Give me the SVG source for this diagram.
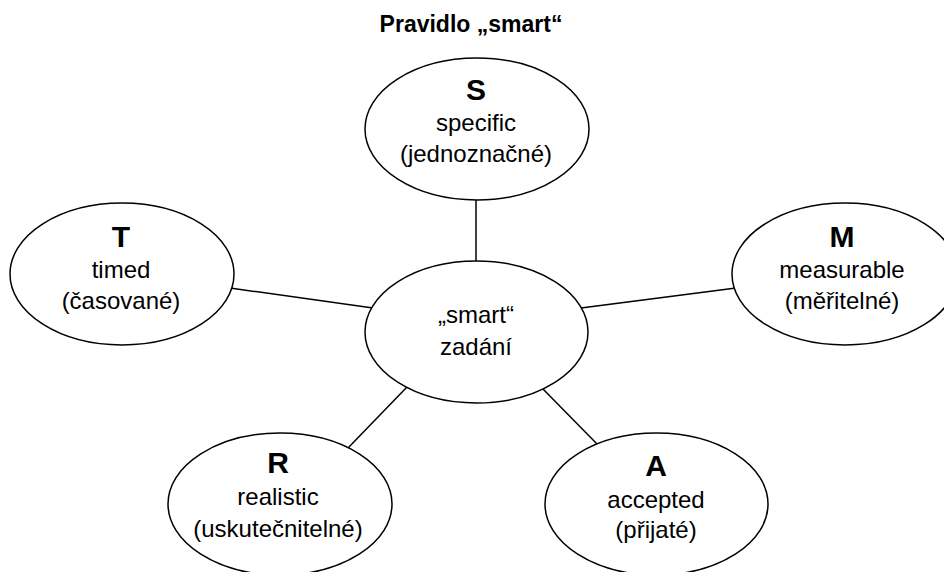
<svg xmlns="http://www.w3.org/2000/svg" width="944" height="572" viewBox="0 0 944 572">
<style>
.node ellipse{fill:#fff;stroke:#000;stroke-width:1.5}
text{font-family:"Liberation Sans",Arial,sans-serif;fill:#000;text-anchor:middle}
.t{font-size:24px}
.h{font-size:30px;font-weight:bold}
.title{font-size:23px;font-weight:bold}
#connectors line{stroke:#000;stroke-width:1.5}
</style>
<rect width="944" height="572" fill="#fff"/>
<text class="title" x="471" y="32">Pravidlo „smart“</text>
<g id="connectors">
<line x1="476" y1="198" x2="476" y2="263"/>
<line x1="230" y1="288" x2="373" y2="308"/>
<line x1="736" y1="288" x2="581" y2="308"/>
<line x1="348" y1="448" x2="407" y2="387"/>
<line x1="599" y1="446" x2="542" y2="388"/>
</g>
<g id="S" class="node">
<ellipse cx="477" cy="129" rx="112" ry="71"/>
<text class="h" x="476" y="100">S</text>
<text class="t" x="476" y="131">specific</text>
<text class="t" x="476" y="162">(jednoznačné)</text>
</g>
<g id="T" class="node">
<ellipse cx="122" cy="274" rx="112" ry="71"/>
<text class="h" x="121" y="247">T</text>
<text class="t" x="121" y="278">timed</text>
<text class="t" x="121" y="309">(časované)</text>
</g>
<g id="M" class="node">
<ellipse cx="845" cy="274" rx="113" ry="71"/>
<text class="h" x="842" y="247">M</text>
<text class="t" x="842" y="278">measurable</text>
<text class="t" x="842" y="309">(měřitelné)</text>
</g>
<g id="C" class="node">
<ellipse cx="476.5" cy="332" rx="111.5" ry="71"/>
<text class="t" x="476" y="323">„smart“</text>
<text class="t" x="476" y="355">zadání</text>
</g>
<g id="R" class="node">
<ellipse cx="280" cy="504" rx="112" ry="71"/>
<text class="h" x="278" y="473">R</text>
<text class="t" x="278" y="505">realistic</text>
<text class="t" x="278" y="537">(uskutečnitelné)</text>
</g>
<g id="A" class="node">
<ellipse cx="656.5" cy="504" rx="111.5" ry="71"/>
<text class="h" x="656" y="476">A</text>
<text class="t" x="656" y="508">accepted</text>
<text class="t" x="656" y="538">(přijaté)</text>
</g>
</svg>
